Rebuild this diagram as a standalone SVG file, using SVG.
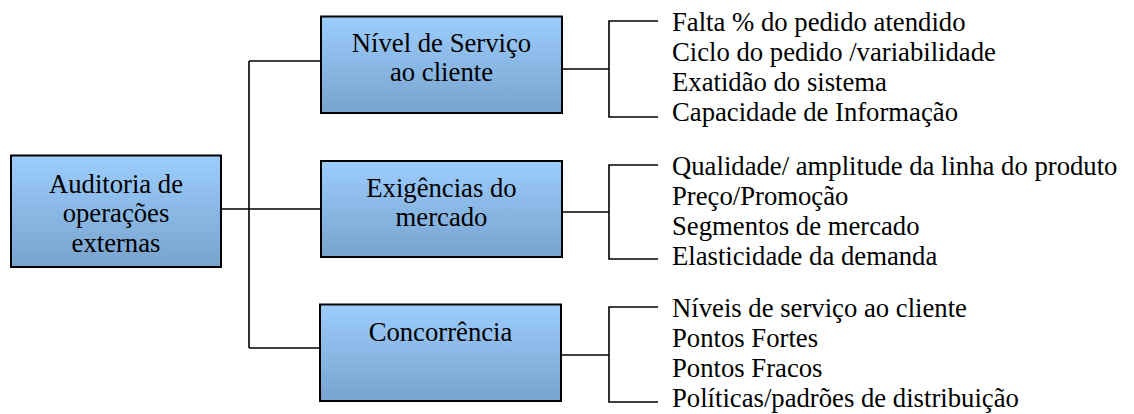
<svg xmlns="http://www.w3.org/2000/svg" width="1134" height="414" viewBox="0 0 1134 414">
<defs>
<linearGradient id="g" x1="0" y1="0" x2="0" y2="1">
<stop offset="0" stop-color="#9CCDFD"/>
<stop offset="1" stop-color="#78A3CD"/>
</linearGradient>
</defs>
<style>
.box{fill:url(#g);stroke:#000;stroke-width:2}
.t{font-family:'Liberation Serif','Times New Roman',serif;font-size:26.7px;fill:#000}
.c{text-anchor:middle}
.ln{fill:none;stroke:#000;stroke-width:1.6}
</style>
<rect width="1134" height="414" fill="#fff"/>
<g id="connectors">
<path class="ln" d="M221,209 H321 M249,61 V348 M249,61 H321 M249,348 H320"/>
<path class="ln" d="M562,69 H609 M658,21 H609 V117 H658"/>
<path class="ln" d="M562,212 H609 M658,165 H609 V259 H658"/>
<path class="ln" d="M561,355 H609 M658,307 H609 V402 H658"/>
</g>
<g id="auditoria">
<rect class="box" x="11" y="155.5" width="210" height="111.5"/>
<text class="t c" x="116" y="193">Auditoria de</text>
<text class="t c" x="116" y="222">operações</text>
<text class="t c" x="116" y="252">externas</text>
</g>
<g id="nivel">
<rect class="box" x="321" y="16.5" width="241" height="96.5"/>
<text class="t c" x="441.5" y="52">Nível de Serviço</text>
<text class="t c" x="441.5" y="81">ao cliente</text>
</g>
<g id="exigencias">
<rect class="box" x="321" y="161" width="241" height="96"/>
<text class="t c" x="441.5" y="197">Exigências do</text>
<text class="t c" x="441.5" y="226">mercado</text>
</g>
<g id="concorrencia">
<rect class="box" x="320" y="304.5" width="241" height="96.5"/>
<text class="t c" x="440.5" y="341">Concorrência</text>
</g>
<g id="itens-nivel">
<text class="t" x="672" y="31">Falta % do pedido atendido</text>
<text class="t" x="672" y="61">Ciclo do pedido /variabilidade</text>
<text class="t" x="672" y="91">Exatidão do sistema</text>
<text class="t" x="672" y="121">Capacidade de Informação</text>
</g>
<g id="itens-exigencias">
<text class="t" x="672" y="175">Qualidade/ amplitude da linha do produto</text>
<text class="t" x="672" y="205">Preço/Promoção</text>
<text class="t" x="672" y="235">Segmentos de mercado</text>
<text class="t" x="672" y="265">Elasticidade da demanda</text>
</g>
<g id="itens-concorrencia">
<text class="t" x="672" y="317">Níveis de serviço ao cliente</text>
<text class="t" x="672" y="347">Pontos Fortes</text>
<text class="t" x="672" y="377">Pontos Fracos</text>
<text class="t" x="672" y="407">Políticas/padrões de distribuição</text>
</g>
</svg>
